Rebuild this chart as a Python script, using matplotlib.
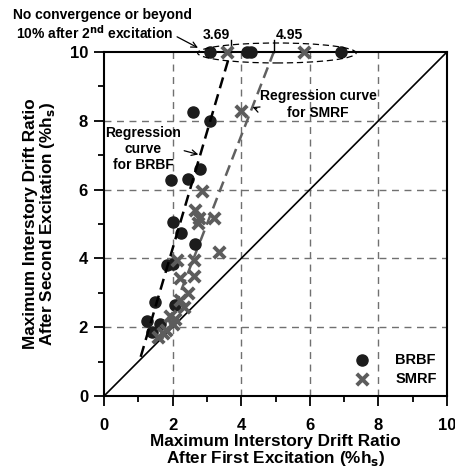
import matplotlib.pyplot as plt
from matplotlib.patches import Ellipse
from matplotlib.ticker import MultipleLocator

plt.rcParams['font.family'] = ['Liberation Sans', 'DejaVu Sans']
plt.rcParams['font.weight'] = 'bold'

# drift ratios (%), first vs second excitation
brbf_x = [2.6, 3.1, 2.8, 1.95, 2.45, 2.0, 2.25, 2.65, 1.85, 2.0,
          1.5, 1.25, 1.63, 1.39, 2.07]
brbf_y = [8.25, 8.0, 6.6, 6.28, 6.3, 5.07, 4.75, 4.42, 3.82, 3.85,
          2.74, 2.17, 2.08, 1.85, 2.65]
smrf_x = [4.0, 2.85, 2.65, 2.78, 2.75, 3.2, 3.35, 2.12, 2.63, 2.22,
          2.62, 2.45, 2.22, 2.32, 1.93, 2.07, 2.0, 1.82, 1.73, 1.58]
smrf_y = [8.27, 5.95, 5.42, 5.17, 5.02, 5.17, 4.2, 3.96, 3.96, 3.42,
          3.48, 2.98, 2.79, 2.58, 2.33, 2.24, 2.1, 1.93, 1.82, 1.72]

# cases that did not converge / went past 10% (plotted on the top edge)
brbf_top_x = [3.1, 4.17, 4.3, 6.9]
smrf_top_x = [3.58, 5.83]

# regression lines
brbf_reg_x = [1.07, 3.69]
brbf_reg_y = [1.14, 10.0]
smrf_reg_x = [1.7, 4.95]
smrf_reg_y = [1.66, 10.0]

circ_col = '#1c1c1c'
cross_col = '#5c5c5c'

fig = plt.figure(figsize=(4.55, 4.68), dpi=100)
ax = fig.add_axes([0.2286, 0.1538, 0.7538, 0.7352])

for v in [2, 4, 6, 8]:
    ax.axvline(v, color='#707070', lw=1.0, ls=(0, (5, 4)), zorder=0)
    ax.axhline(v, color='#707070', lw=1.0, ls=(0, (5, 4)), zorder=0)

ax.plot([0, 10], [0, 10], color='black', lw=1.2, zorder=1)

ax.plot(brbf_reg_x, brbf_reg_y, color='black', lw=1.8,
        ls=(0, (4.5, 2.5)), zorder=4)
ax.plot(smrf_reg_x, smrf_reg_y, color='#606060', lw=1.8,
        ls=(0, (4.5, 2.5)), zorder=2)

ax.scatter(brbf_x, brbf_y, s=64, color=circ_col, marker='o', zorder=3,
           label='BRBF')
ax.scatter(smrf_x, smrf_y, s=68, color=cross_col, marker='x',
           linewidths=2.8, zorder=3, label='SMRF')
ax.scatter(brbf_top_x, [10] * len(brbf_top_x), s=64, color=circ_col,
           marker='o', zorder=5, clip_on=False)
ax.scatter(smrf_top_x, [10] * len(smrf_top_x), s=68, color=cross_col,
           marker='x', linewidths=2.8, zorder=5, clip_on=False)

ax.add_patch(Ellipse((5.04, 9.97), 4.62, 0.58, fill=False, ec='black',
                     lw=0.9, ls=(0, (5, 3)), clip_on=False, zorder=6))

# intercept marks of the regression lines at 10%
for xv, lab, lx in [(3.69, '3.69', 3.28), (4.95, '4.95', 5.39)]:
    ax.plot([xv, xv], [10, 10.36], color='black', lw=1.0, clip_on=False)
    ax.text(lx, 10.5, lab, ha='center', va='center', fontsize=10,
            fontweight='bold')

ax.text(-0.05, 11.07, 'No convergence or beyond', ha='center', va='center',
        fontsize=10, fontweight='bold')
ax.text(-0.26, 10.55, '10% after 2$^{\\mathbf{nd}}$ excitation',
        ha='center', va='center', fontsize=10, fontweight='bold')
ax.annotate('', xy=(2.74, 10.12), xytext=(2.13, 10.44),
            annotation_clip=False,
            arrowprops=dict(arrowstyle='->', color='black', lw=0.9,
                            shrinkA=0, shrinkB=0))

ax.annotate('Regression curve\nfor SMRF', xy=(4.33, 8.4), xytext=(6.24, 8.47),
            ha='center', va='center', fontsize=10, fontweight='bold',
            arrowprops=dict(arrowstyle='->', color='black', lw=0.9,
                            shrinkA=0, shrinkB=0, relpos=(0.05, 0.25)))

ax.annotate('Regression\ncurve\nfor BRBF', xy=(2.75, 7.02), xytext=(1.15, 7.18),
            ha='center', va='center', fontsize=10, fontweight='bold',
            arrowprops=dict(arrowstyle='->', color='black', lw=0.9,
                            shrinkA=0, shrinkB=0, relpos=(0.95, 0.5)))

ax.set_xlim(0, 10)
ax.set_ylim(0, 10)
ax.xaxis.set_major_locator(MultipleLocator(2))
ax.xaxis.set_minor_locator(MultipleLocator(1))
ax.yaxis.set_major_locator(MultipleLocator(2))
ax.yaxis.set_minor_locator(MultipleLocator(1))
ax.tick_params(which='major', direction='out', length=7.5, width=1.3,
               labelsize=12)
ax.tick_params(axis='x', which='major', pad=8)
ax.tick_params(axis='y', which='major', pad=4)
ax.tick_params(which='minor', direction='out', length=4, width=1.3)
for lab in ax.get_xticklabels() + ax.get_yticklabels():
    lab.set_fontweight('bold')
for sp in ax.spines.values():
    sp.set_linewidth(1.5)

ax.set_xlabel('Maximum Interstory Drift Ratio\nAfter First Excitation (%h$_{\\mathbf{s}}$)',
              fontsize=12.3, fontweight='bold', labelpad=1, linespacing=1.0)
ax.set_ylabel('Maximum Interstory Drift Ratio\nAfter Second Excitation (%h$_{\\mathbf{s}}$)',
              fontsize=12.3, fontweight='bold', labelpad=9, linespacing=1.0)

leg = ax.legend(loc='lower right', frameon=False, fontsize=10.5,
                handletextpad=1.3, borderaxespad=0.3, labelspacing=0.35)
for t in leg.get_texts():
    t.set_fontweight('bold')

fig.savefig('out.png', dpi=100)
